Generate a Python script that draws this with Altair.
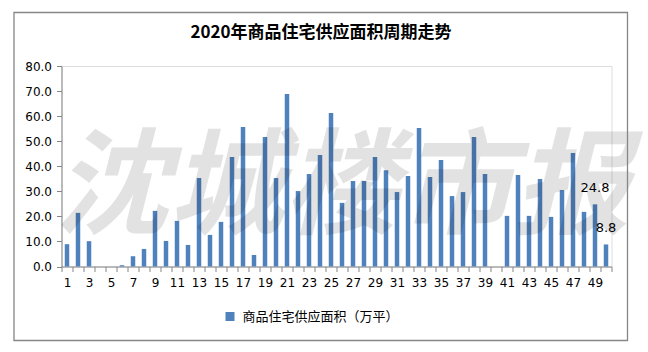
import altair as alt
import pandas as pd

weeks = list(range(1, 51))
supply = [8.9, 21.4, 10.1, 0, 0, 0.5, 4.1, 7.0, 22.2, 10.2,
          18.2, 8.6, 35.3, 12.6, 17.8, 43.7, 55.7, 4.6, 51.7, 35.3,
          68.8, 30.1, 36.9, 44.5, 61.2, 25.4, 34.1, 34.1, 43.7, 38.4,
          29.7, 36.1, 55.3, 35.7, 42.5, 28.1, 29.7, 51.7, 36.9, 0,
          20.2, 36.5, 20.2, 34.9, 19.8, 30.5, 45.3, 21.8, 24.8, 8.8]
label_weeks = [49, 50]
series_name = "商品住宅供应面积（万平）"
title_text = "2020年商品住宅供应面积周期走势"
watermark = "沈城楼市报"
y_ticks = [0, 10, 20, 30, 40, 50, 60, 70, 80]

df = pd.DataFrame({"week": weeks, "value": supply, "series": series_name})
df["show"] = df["week"].isin(label_weeks)

cjk = "Noto Sans CJK SC"
latin = "DejaVu Sans"
axis_gray = "#868686"

x_enc = alt.X(
    "week:O",
    scale=alt.Scale(paddingInner=0, paddingOuter=0),
    axis=alt.Axis(
        title=None, grid=False, labelAngle=0,
        labelExpr="datum.value % 2 === 1 ? datum.label : ''",
        labelOverlap=False, tickBand="extent",
        tickSize=5, tickColor=axis_gray, domainColor=axis_gray,
        labelFont=latin, labelFontSize=12, labelColor="#000000", labelPadding=6,
    ),
)
y_enc = alt.Y(
    "value:Q",
    scale=alt.Scale(domain=[0, 80], nice=False),
    axis=alt.Axis(
        title=None, values=y_ticks, format=".1f", grid=False,
        tickSize=5, tickColor=axis_gray, domainColor=axis_gray,
        labelFont=latin, labelFontSize=12, labelColor="#000000", labelPadding=5,
    ),
)

bars = alt.Chart(df).mark_bar(size=4.5).encode(
    x=x_enc,
    y=y_enc,
    color=alt.Color(
        "series:N",
        scale=alt.Scale(range=["#4f81bd"]),
        legend=alt.Legend(
            title=None, orient="none", legendX=162, legendY=244,
            symbolType="square", symbolSize=81, symbolStrokeWidth=0,
            labelFont=cjk, labelFontSize=13, labelColor="#000000",
            labelOffset=6, padding=0,
        ),
    ),
)

labels = alt.Chart(df).transform_filter("datum.show").mark_text(
    dy=-16, fontSize=13, font=latin, color="#000000"
).encode(x=x_enc, y=y_enc, text=alt.Text("value:Q", format=".1f"))

wm = alt.Chart(pd.DataFrame({"t": [watermark]})).mark_text(
    font=cjk, fontSize=115, fontWeight="bold", fontStyle="italic",
    color="#000000", opacity=0.11, align="center", baseline="middle",
).encode(text="t:N", x=alt.value(280), y=alt.value(124))

title = alt.Chart(pd.DataFrame({"t": [title_text]})).mark_text(
    font=cjk, fontSize=17, fontWeight="bold", color="#000000",
    align="center", baseline="middle",
).encode(text="t:N", x=alt.value(259.5), y=alt.value(-33))

frame = alt.Chart(pd.DataFrame({"a": [0]})).mark_rect(
    fillOpacity=0, stroke=axis_gray, strokeWidth=1.3
).encode(x=alt.value(-47.5), x2=alt.value(566), y=alt.value(-53.5), y2=alt.value(274.5))

chart = alt.layer(bars, labels, wm, title, frame).properties(
    width=550, height=200.5,
    padding={"left": 61.5, "top": 66, "right": 36.5, "bottom": 85.5},
    autosize=alt.AutoSizeParams(type="none"),
).configure_view(stroke=None).configure(background="white")

chart.save("out.html", embed_options={"renderer": "svg", "actions": False})
